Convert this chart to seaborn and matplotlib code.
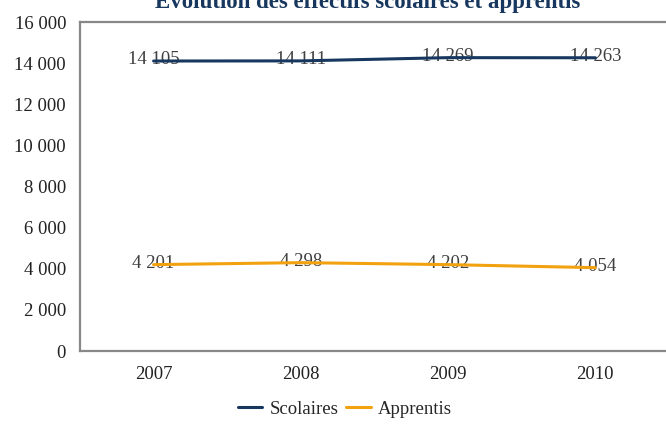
import pandas as pd
import matplotlib
matplotlib.use("Agg")
import matplotlib.pyplot as plt
import seaborn as sns

# data
years = ["2007", "2008", "2009", "2010"]
scolaires = [14105, 14111, 14269, 14263]
apprentis = [4201, 4298, 4202, 4054]
series_names = ["Scolaires", "Apprentis"]
y_ticks = [0, 2000, 4000, 6000, 8000, 10000, 12000, 14000, 16000]

df = pd.DataFrame({
    "annee": years * 2,
    "effectif": scolaires + apprentis,
    "serie": [series_names[0]] * len(years) + [series_names[1]] * len(years),
})

sns.set_style("white")
plt.rcParams["font.family"] = ["Liberation Serif", "DejaVu Serif"]

fig = plt.figure(figsize=(6.66, 4.25), dpi=100)
ax = fig.add_axes([0.1201, 0.1741, 0.8844, 0.774])

palette = {"Scolaires": "#17375E", "Apprentis": "#F2A10F"}
sns.lineplot(data=df, x="annee", y="effectif", hue="serie", palette=palette,
             linewidth=2.2, ax=ax, sort=False, zorder=3)

# data labels centred on the points, line drawn on top
for name, vals in zip(series_names, [scolaires, apprentis]):
    for i, v in enumerate(vals):
        ax.text(i, v + 60, f"{v:,}".replace(",", " "), ha="center", va="center",
                fontsize=13.5, color="#404040", zorder=2)

ax.set_xlim(-0.5, 3.5)
ax.set_ylim(0, 16000)
ax.set_yticks(y_ticks)
ax.set_yticklabels([f"{t:,}".replace(",", " ") for t in y_ticks])
ax.set_xlabel("")
ax.set_ylabel("")
ax.tick_params(axis="both", length=0, labelsize=13.5, colors="#222222")
ax.tick_params(axis="x", pad=11)
ax.tick_params(axis="y", pad=10)

for side in ["left", "bottom", "top", "right"]:
    ax.spines[side].set_color("#888888")
    ax.spines[side].set_linewidth(1.6)

handles, labels = ax.get_legend_handles_labels()
ax.legend(handles, labels, loc="center", bbox_to_anchor=(345 / 666, 1 - 409 / 425),
          bbox_transform=fig.transFigure, ncol=2, frameon=False, fontsize=13.5,
          handlelength=1.3, columnspacing=0.4, handletextpad=0.4)

fig.text(368 / 666, 0.998, "Évolution des effectifs scolaires et apprentis",
         ha="center", va="center", fontsize=16.5, fontweight="bold", color="#17375E")

fig.savefig("out.png", dpi=100)
